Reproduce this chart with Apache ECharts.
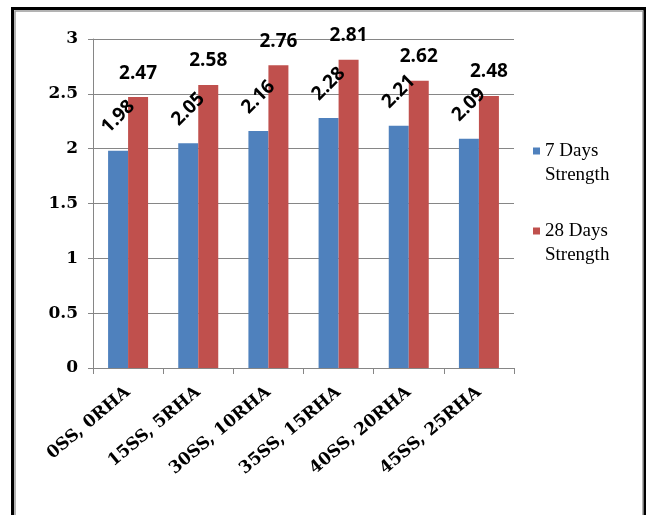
<!DOCTYPE html>
<html><head><meta charset="utf-8">
<script src="https://cdn.jsdelivr.net/npm/echarts@6/dist/echarts.min.js"></script>
<style>html,body{margin:0;padding:0;background:#fff}#c{width:649px;height:515px}</style>
</head><body><div id="c"></div>
<script>
const categories = ['0SS, 0RHA','15SS, 5RHA','30SS, 10RHA','35SS, 15RHA','40SS, 20RHA','45SS, 25RHA'];
const days7 = [1.98, 2.05, 2.16, 2.28, 2.21, 2.09];
const days28 = [2.47, 2.58, 2.76, 2.81, 2.62, 2.48];
const seriesNames = ['7 Days\nStrength', '28 Days\nStrength'];

const chart = echarts.init(document.getElementById('c'), null, {renderer:'canvas'});
chart.setOption({
  animation:false,
  backgroundColor:'#fff',
  graphic:[
    {type:'rect', shape:{x:12.5,y:8.5,width:632,height:600}, style:{fill:'none',stroke:'#000',lineWidth:3}, z:100},
    {type:'rect', shape:{x:15,y:11,width:628,height:600}, style:{fill:'none',stroke:'#9a9a9a',lineWidth:1.5}, z:100}
  ],
  grid:{left:93, right:135, top:39, bottom:147},
  legend:{
    orient:'vertical', left:528, top:110, itemWidth:7, itemHeight:7, itemGap:8,
    icon:'rect',
    formatter: n => '\n' + n,
    textStyle:{fontFamily:'Liberation Serif', fontSize:19, color:'#000', lineHeight:24}
  },
  xAxis:{
    type:'category', data:categories,
    axisLine:{lineStyle:{color:'#868686'}},
    axisTick:{show:true, length:6, lineStyle:{color:'#868686'}},
    axisLabel:{rotate:40, margin:22, fontFamily:'DejaVu Serif', fontWeight:'bold', fontSize:17, color:'#000', interval:0}
  },
  yAxis:{
    type:'value', min:0, max:3, interval:0.5,
    axisLine:{show:true, lineStyle:{color:'#868686'}},
    axisTick:{show:true, length:5, lineStyle:{color:'#868686'}},
    splitLine:{lineStyle:{color:'#868686'}},
    axisLabel:{margin:15, fontFamily:'DejaVu Serif', fontWeight:'bold', fontSize:17, color:'#000'}
  },
  series:[
    {name:seriesNames[0], type:'bar', data:days7, barWidth:20, barGap:'0%',
     itemStyle:{color:'#4F81BD'},
     label:{show:true, position:'top', distance:34, rotate:45, align:'center', verticalAlign:'middle',
            fontFamily:'Open Sans', fontWeight:'bold', fontSize:19, color:'#000'}},
    {name:seriesNames[1], type:'bar', data:days28, barWidth:20,
     itemStyle:{color:'#C0504D'},
     label:{show:true, position:'top', distance:24, align:'center', verticalAlign:'middle',
            fontFamily:'Open Sans', fontWeight:'bold', fontSize:19, color:'#000'}}
  ]
});
</script></body></html>
